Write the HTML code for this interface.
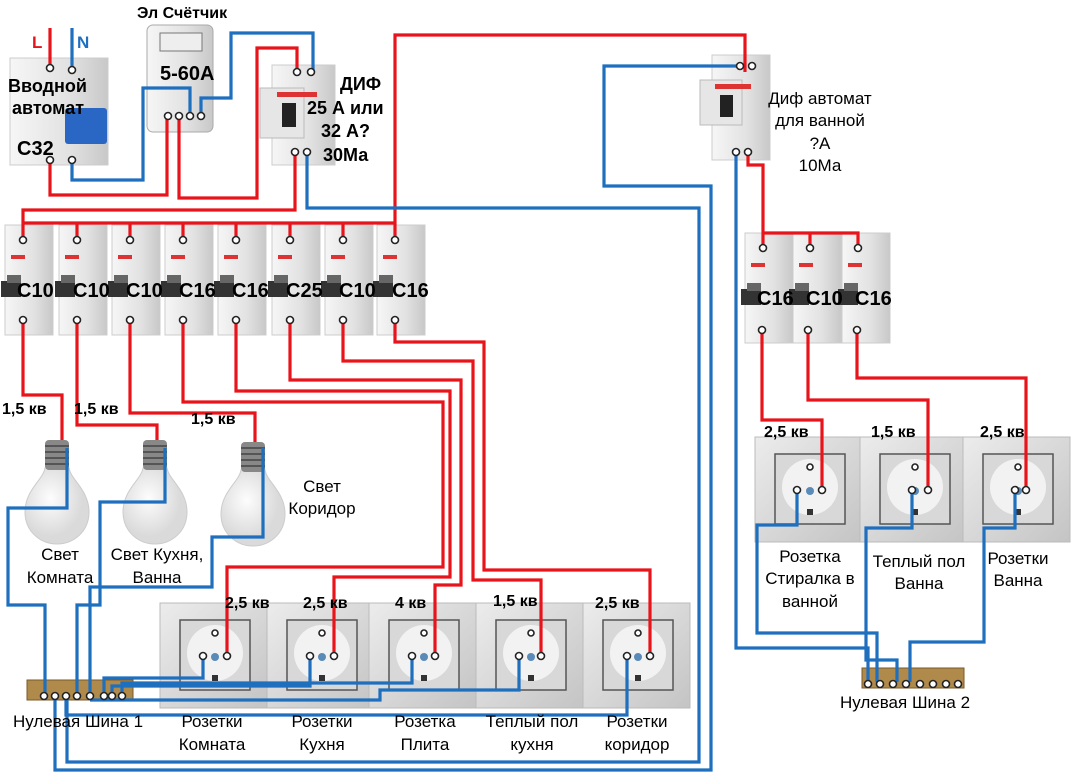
<!DOCTYPE html>
<html><head><meta charset="utf-8"><style>
body{margin:0;background:#fff;}
svg{display:block;font-family:"Liberation Sans",sans-serif;}
.b{font-weight:bold;}
.r{fill:none;stroke:#e8141c;stroke-width:3.2;}
.u{fill:none;stroke:#1f6fbf;stroke-width:3.2;}
.t{fill:#fff;stroke:#222;stroke-width:1.6;}
</style></head><body>
<svg width="1075" height="774" viewBox="0 0 1075 774">
<defs>
<linearGradient id="g" x1="0" x2="1"><stop offset="0" stop-color="#f6f6f6"/><stop offset=".6" stop-color="#e2e2e2"/><stop offset="1" stop-color="#c8c8c8"/></linearGradient>
<linearGradient id="s" x1="0" y1="0" x2="1" y2="1"><stop offset="0" stop-color="#ececec"/><stop offset="1" stop-color="#c4c4c4"/></linearGradient>
<radialGradient id="bulb" cx=".4" cy=".4"><stop offset="0" stop-color="#fdfdfd"/><stop offset="1" stop-color="#dadada"/></radialGradient>
<g id="brk">
<rect x="0" y="0" width="48" height="110" fill="url(#g)" stroke="#ccc"/>
<rect x="6" y="30" width="14" height="4" fill="#d33"/>
<rect x="-4" y="56" width="20" height="16" fill="#333"/>
<rect x="2" y="50" width="14" height="8" fill="#666"/>
</g>
<g id="sock">
<rect x="0" y="0" width="107" height="105" fill="url(#s)" stroke="#bbb"/>
<rect x="20" y="17" width="70" height="70" fill="#d8d8d8" stroke="#555" stroke-width="1.5"/>
<circle cx="55" cy="50" r="28" fill="#f2f2f2"/>
<circle cx="55" cy="54" r="4" fill="#5a8ab8"/>
<rect x="52" y="72" width="6" height="6" fill="#333"/>
<circle cx="55" cy="30" r="3" class="t"/>
</g>
<g id="bulbg">
<path d="M-12 28 C-14 40 -32 50 -32 72 C-32 92 -16 104 0 104 C16 104 32 92 32 72 C32 50 14 40 12 28Z" fill="url(#bulb)" stroke="#ccc"/>
<rect x="-12" y="0" width="24" height="30" rx="4" fill="#888"/>
<path d="M-12 6h24M-12 12h24M-12 18h24M-12 24h24" stroke="#555" stroke-width="2"/>
</g>
</defs>

<rect x="10" y="58" width="98" height="107" fill="url(#g)" stroke="#ccc"/>
<rect x="65" y="108" width="42" height="36" fill="#2a66c4" rx="3"/>
<rect x="147" y="25" width="66" height="107" rx="6" fill="url(#g)" stroke="#aaa"/>
<rect x="160" y="33" width="42" height="18" fill="#eee" stroke="#777"/>
<rect x="272" y="65" width="63" height="100" fill="url(#g)" stroke="#ccc"/>
<rect x="260" y="88" width="44" height="50" fill="#e6e6e6" stroke="#bbb"/>
<rect x="282" y="103" width="14" height="24" fill="#222"/>
<rect x="277" y="92" width="40" height="5" fill="#d33"/>
<rect x="712" y="55" width="58" height="105" fill="url(#g)" stroke="#ccc"/>
<rect x="700" y="80" width="42" height="45" fill="#e6e6e6" stroke="#bbb"/>
<rect x="720" y="95" width="13" height="22" fill="#222"/>
<rect x="715" y="84" width="36" height="5" fill="#d33"/>

<use href="#brk" x="5" y="225"/><use href="#brk" x="59" y="225"/><use href="#brk" x="112" y="225"/><use href="#brk" x="165" y="225"/><use href="#brk" x="218" y="225"/><use href="#brk" x="272" y="225"/><use href="#brk" x="325" y="225"/><use href="#brk" x="377" y="225"/>
<use href="#brk" x="745" y="233"/><use href="#brk" x="793" y="233"/><use href="#brk" x="842" y="233"/>

<use href="#sock" x="160" y="603"/><use href="#sock" x="267" y="603"/><use href="#sock" x="369" y="603"/><use href="#sock" x="476" y="603"/><use href="#sock" x="583" y="603"/>
<use href="#sock" x="755" y="437"/><use href="#sock" x="860" y="437"/><use href="#sock" x="963" y="437"/>

<use href="#bulbg" x="57" y="440"/><use href="#bulbg" x="155" y="440"/><use href="#bulbg" x="253" y="442"/>

<rect x="27" y="680" width="106" height="20" fill="#b08a4a" stroke="#7a5a2a"/>
<rect x="862" y="668" width="102" height="20" fill="#b08a4a" stroke="#7a5a2a"/>

<path class="r" d="M50 28V68M50 160V195H167V116M179 116V198H257V48H297V72"/>
<path class="r" d="M295 152V210H23V240M23 223H395M77 223V240M130 223V240M183 223V240M236 223V240M290 223V240M343 223V240M395 240V35H745V72"/>
<path class="r" d="M23 320V395H62V440M77 320V425H157V440M130 320V413H255V442"/>
<path class="r" d="M183 320V402H443V567H227V656M236 320V391H450V577H334V656M290 320V380H461V585H435V656M343 320V361H473V580H541V656M395 320V342H484V570H650V656"/>
<path class="r" d="M748 152V165H763V248M763 233H858V248M810 233V248M762 330V420H822V490M808 330V400H928V490M857 330V378H1026V490"/>

<path class="u" d="M72 28V70M72 160V180H143V88H190V116M201 116V98H231V33H313V72"/>
<path class="u" d="M307 152V208H699V762H67V696M740 66H604V186H711V770H55V696"/>
<path class="u" d="M67 448V508H8V605H45V696M165 448V502H100V605H77V696M263 448V537H212V587H90V696"/>
<path class="u" d="M203 656V678H104V696M310 656V686H112V696M412 656V683H122V696M519 656V690H380V700H90M627 656V715H66V696"/>
<path class="u" d="M736 152V648H868V682M797 490V525H757V633H877V682M912 490V528H866V660H897V682M1015 490V528H984V642H910V682"/>

<g>
<circle cx="50" cy="68" r="3.5" class="t"/><circle cx="72" cy="70" r="3.5" class="t"/><circle cx="50" cy="160" r="3.5" class="t"/><circle cx="72" cy="160" r="3.5" class="t"/>
<circle cx="168" cy="116" r="3.5" class="t"/><circle cx="179" cy="116" r="3.5" class="t"/><circle cx="190" cy="116" r="3.5" class="t"/><circle cx="201" cy="116" r="3.5" class="t"/>
<circle cx="297" cy="72" r="3.5" class="t"/><circle cx="311" cy="72" r="3.5" class="t"/><circle cx="295" cy="152" r="3.5" class="t"/><circle cx="307" cy="152" r="3.5" class="t"/>
<circle cx="740" cy="66" r="3.5" class="t"/><circle cx="752" cy="66" r="3.5" class="t"/><circle cx="736" cy="152" r="3.5" class="t"/><circle cx="748" cy="152" r="3.5" class="t"/>
<circle cx="23" cy="240" r="3.5" class="t"/><circle cx="77" cy="240" r="3.5" class="t"/><circle cx="130" cy="240" r="3.5" class="t"/><circle cx="183" cy="240" r="3.5" class="t"/><circle cx="236" cy="240" r="3.5" class="t"/><circle cx="290" cy="240" r="3.5" class="t"/><circle cx="343" cy="240" r="3.5" class="t"/><circle cx="395" cy="240" r="3.5" class="t"/>
<circle cx="23" cy="320" r="3.5" class="t"/><circle cx="77" cy="320" r="3.5" class="t"/><circle cx="130" cy="320" r="3.5" class="t"/><circle cx="183" cy="320" r="3.5" class="t"/><circle cx="236" cy="320" r="3.5" class="t"/><circle cx="290" cy="320" r="3.5" class="t"/><circle cx="343" cy="320" r="3.5" class="t"/><circle cx="395" cy="320" r="3.5" class="t"/>
<circle cx="763" cy="248" r="3.5" class="t"/><circle cx="810" cy="248" r="3.5" class="t"/><circle cx="858" cy="248" r="3.5" class="t"/><circle cx="762" cy="330" r="3.5" class="t"/><circle cx="808" cy="330" r="3.5" class="t"/><circle cx="857" cy="330" r="3.5" class="t"/>
<circle cx="203" cy="656" r="3.5" class="t"/><circle cx="227" cy="656" r="3.5" class="t"/><circle cx="310" cy="656" r="3.5" class="t"/><circle cx="334" cy="656" r="3.5" class="t"/><circle cx="412" cy="656" r="3.5" class="t"/><circle cx="435" cy="656" r="3.5" class="t"/><circle cx="519" cy="656" r="3.5" class="t"/><circle cx="541" cy="656" r="3.5" class="t"/><circle cx="627" cy="656" r="3.5" class="t"/><circle cx="650" cy="656" r="3.5" class="t"/>
<circle cx="797" cy="490" r="3.5" class="t"/><circle cx="822" cy="490" r="3.5" class="t"/><circle cx="912" cy="490" r="3.5" class="t"/><circle cx="928" cy="490" r="3.5" class="t"/><circle cx="1015" cy="490" r="3.5" class="t"/><circle cx="1026" cy="490" r="3.5" class="t"/>
<circle cx="44" cy="696" r="3.5" class="t"/><circle cx="55" cy="696" r="3.5" class="t"/><circle cx="66" cy="696" r="3.5" class="t"/><circle cx="77" cy="696" r="3.5" class="t"/><circle cx="90" cy="696" r="3.5" class="t"/><circle cx="104" cy="696" r="3.5" class="t"/><circle cx="112" cy="696" r="3.5" class="t"/><circle cx="122" cy="696" r="3.5" class="t"/>
<circle cx="868" cy="684" r="3.5" class="t"/><circle cx="880" cy="684" r="3.5" class="t"/><circle cx="893" cy="684" r="3.5" class="t"/><circle cx="906" cy="684" r="3.5" class="t"/><circle cx="920" cy="684" r="3.5" class="t"/><circle cx="933" cy="684" r="3.5" class="t"/><circle cx="946" cy="684" r="3.5" class="t"/><circle cx="958" cy="684" r="3.5" class="t"/>
</g>

<g class="b" font-size="16">
<text x="137" y="18">Эл Счётчик</text>
<text x="32" y="48" fill="#e8141c" font-size="17">L</text>
<text x="77" y="48" fill="#1f6fbf" font-size="17">N</text>
<text x="8" y="92" font-size="18">Вводной</text>
<text x="12" y="114" font-size="18">автомат</text>
<text x="17" y="155" font-size="20">C32</text>
<text x="160" y="80" font-size="20">5-60A</text>
<text x="340" y="90" font-size="18">ДИФ</text>
<text x="307" y="114" font-size="18">25 А или</text>
<text x="321" y="137" font-size="18">32 А?</text>
<text x="323" y="161" font-size="18">30Ма</text>
</g>
<g class="b" font-size="20">
<text x="17" y="297">C10</text><text x="73" y="297">C10</text><text x="126" y="297">C10</text><text x="179" y="297">C16</text><text x="232" y="297">C16</text><text x="286" y="297">C25</text><text x="339" y="297">C10</text><text x="392" y="297">C16</text>
<text x="757" y="305">C16</text><text x="806" y="305">C10</text><text x="855" y="305">C16</text>
</g>
<g class="b" font-size="16">
<text x="2" y="414">1,5 кв</text><text x="74" y="414">1,5 кв</text><text x="191" y="424">1,5 кв</text>
<text x="225" y="608">2,5 кв</text><text x="303" y="608">2,5 кв</text><text x="395" y="608">4 кв</text><text x="493" y="606">1,5 кв</text><text x="595" y="608">2,5 кв</text>
<text x="764" y="437">2,5 кв</text><text x="871" y="437">1,5 кв</text><text x="980" y="437">2,5 кв</text>
</g>
<g font-size="17" text-anchor="middle">
<text x="820" y="104">Диф автомат</text><text x="820" y="126">для ванной</text><text x="820" y="149">?A</text><text x="820" y="171">10Ма</text>
<text x="60" y="560">Свет</text><text x="60" y="583">Комната</text>
<text x="157" y="560">Свет Кухня,</text><text x="157" y="583">Ванна</text>
<text x="322" y="492">Свет</text><text x="322" y="514">Коридор</text>
<text x="78" y="727">Нулевая Шина 1</text>
<text x="212" y="727">Розетки</text><text x="212" y="750">Комната</text>
<text x="322" y="727">Розетки</text><text x="322" y="750">Кухня</text>
<text x="425" y="727">Розетка</text><text x="425" y="750">Плита</text>
<text x="532" y="727">Теплый пол</text><text x="532" y="750">кухня</text>
<text x="637" y="727">Розетки</text><text x="637" y="750">коридор</text>
<text x="810" y="562">Розетка</text><text x="810" y="584">Стиралка в</text><text x="810" y="607">ванной</text>
<text x="919" y="567">Теплый пол</text><text x="919" y="589">Ванна</text>
<text x="1018" y="564">Розетки</text><text x="1018" y="586">Ванна</text>
<text x="905" y="708">Нулевая Шина 2</text>
</g>
</svg>
</body></html>
